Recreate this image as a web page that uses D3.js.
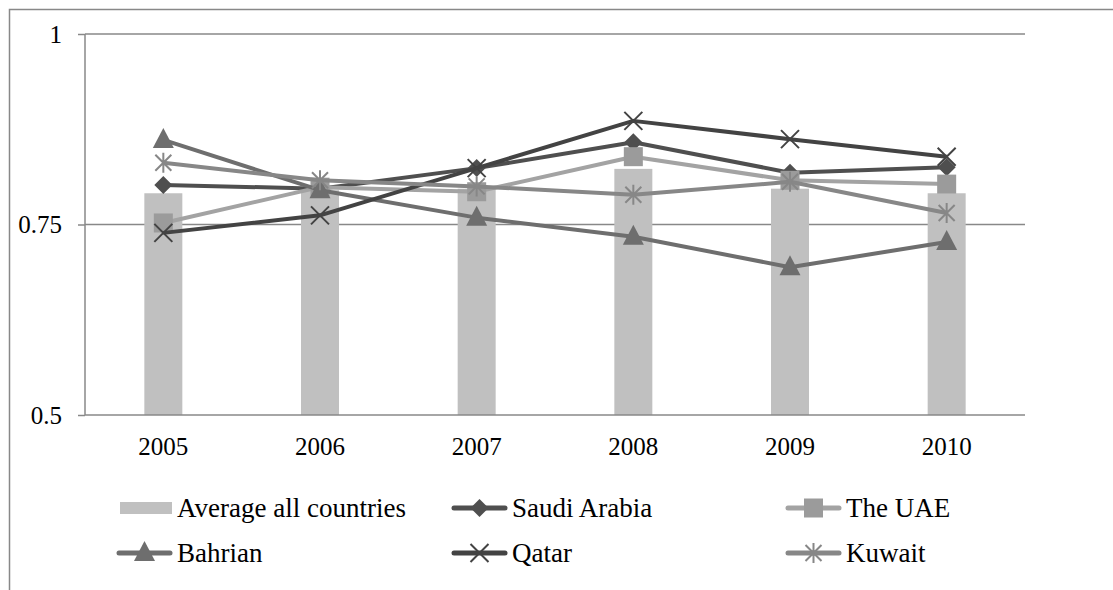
<!DOCTYPE html>
<html>
<head>
<meta charset="utf-8">
<script src="https://d3js.org/d3.v7.min.js"></script>
<style>
  body { margin: 0; background: #fff; }
  svg text { font-family: "Liberation Serif", "Times New Roman", serif; fill: #000; }
</style>
</head>
<body>
<div id="chart"></div>
<script>
// data
var years = ["2005", "2006", "2007", "2008", "2009", "2010"];
var average = [0.791, 0.795, 0.797, 0.823, 0.797, 0.791];
var saudi = [0.802, 0.797, 0.824, 0.858, 0.818, 0.825];
var uae = [0.752, 0.799, 0.793, 0.839, 0.808, 0.803];
var bahrain = [0.861, 0.795, 0.759, 0.734, 0.694, 0.727];
var qatar = [0.739, 0.762, 0.824, 0.886, 0.862, 0.839];
var kuwait = [0.831, 0.808, 0.800, 0.789, 0.806, 0.765];
var yTicks = [0.5, 0.75, 1];

var series = [
  { name: "Saudi Arabia", values: saudi, color: "#4f4f4f", mark: "diamond" },
  { name: "The UAE", values: uae, color: "#a3a3a3", mark: "square" },
  { name: "Bahrian", values: bahrain, color: "#6e6e6e", mark: "triangle" },
  { name: "Qatar", values: qatar, color: "#434343", mark: "cross" },
  { name: "Kuwait", values: kuwait, color: "#878787", mark: "asterisk" }
];

var width = 1113, height = 590;
var plotLeft = 85, plotRight = 1025, plotTop = 34, plotBottom = 415;

var svg = d3.select("#chart").append("svg")
  .attr("width", width)
  .attr("height", height);

// outer chart border (cut off at right and bottom)
svg.append("rect")
  .attr("x", 9.5).attr("y", 9.5)
  .attr("width", 1300).attr("height", 800)
  .attr("fill", "none")
  .attr("stroke", "#888")
  .attr("stroke-width", 1.5);

var x = d3.scaleBand().domain(years).range([plotLeft, plotRight]);
var y = d3.scaleLinear().domain([0.5, 1]).range([plotBottom, plotTop]);

// gridlines
svg.selectAll(".grid")
  .data(yTicks.slice(1))
  .enter().append("line")
  .attr("x1", plotLeft).attr("x2", plotRight)
  .attr("y1", function(d){ return y(d); })
  .attr("y2", function(d){ return y(d); })
  .attr("stroke", "#888")
  .attr("stroke-width", 1.5);

// bars
var barW = 38;
svg.selectAll(".bar")
  .data(average)
  .enter().append("rect")
  .attr("x", function(d, i){ return x(years[i]) + x.bandwidth() / 2 - barW / 2; })
  .attr("y", function(d){ return y(d); })
  .attr("width", barW)
  .attr("height", function(d){ return y(0.5) - y(d); })
  .attr("fill", "#c0c0c0");

// axes
var yAxis = svg.append("g")
  .attr("transform", "translate(" + plotLeft + ",0)")
  .call(d3.axisLeft(y).tickValues(yTicks).tickSize(7).tickPadding(16)
    .tickFormat(function(d){ return String(d); }));
yAxis.select(".domain").attr("stroke", "#888").attr("stroke-width", 1.5)
  .attr("d", "M0," + plotTop + "V" + plotBottom);
yAxis.selectAll(".tick line").attr("stroke", "#888").attr("stroke-width", 1.5);
yAxis.selectAll("text").style("font-size", "25px").style("font-family", "Liberation Serif").attr("fill", "#000");

var xAxis = svg.append("g")
  .attr("transform", "translate(0," + plotBottom + ")")
  .call(d3.axisBottom(x).tickSize(0).tickPadding(22));
xAxis.select(".domain").attr("stroke", "#888").attr("stroke-width", 1.5)
  .attr("d", "M" + plotLeft + ",0H" + plotRight);
xAxis.selectAll("text").style("font-size", "25px").style("font-family", "Liberation Serif").attr("fill", "#000");

// markers
function drawMark(g, kind, cx, cy, color) {
  if (kind === "diamond") {
    g.append("path")
      .attr("d", "M" + cx + "," + (cy - 9) + "L" + (cx + 9) + "," + cy + "L" + cx + "," + (cy + 9) + "L" + (cx - 9) + "," + cy + "Z")
      .attr("fill", color);
  } else if (kind === "square") {
    g.append("rect")
      .attr("x", cx - 9.5).attr("y", cy - 9.5)
      .attr("width", 19).attr("height", 19)
      .attr("fill", "#9b9b9b");
  } else if (kind === "triangle") {
    g.append("path")
      .attr("d", "M" + cx + "," + (cy - 12) + "L" + (cx + 10.5) + "," + (cy + 8) + "L" + (cx - 10.5) + "," + (cy + 8) + "Z")
      .attr("fill", color);
  } else if (kind === "cross") {
    g.append("path")
      .attr("d", "M" + (cx - 9) + "," + (cy - 9) + "L" + (cx + 9) + "," + (cy + 9) + "M" + (cx + 9) + "," + (cy - 9) + "L" + (cx - 9) + "," + (cy + 9))
      .attr("stroke", color).attr("stroke-width", 2).attr("fill", "none");
  } else if (kind === "asterisk") {
    g.append("path")
      .attr("d", "M" + (cx - 8) + "," + (cy - 8) + "L" + (cx + 8) + "," + (cy + 8) + "M" + (cx + 8) + "," + (cy - 8) + "L" + (cx - 8) + "," + (cy + 8) + "M" + cx + "," + (cy - 10) + "V" + (cy + 10))
      .attr("stroke", color).attr("stroke-width", 2).attr("fill", "none");
  }
}

var line = d3.line()
  .x(function(d, i){ return x(years[i]) + x.bandwidth() / 2; })
  .y(function(d){ return y(d); });

series.forEach(function(s) {
  var g = svg.append("g");
  g.append("path")
    .datum(s.values)
    .attr("d", line)
    .attr("fill", "none")
    .attr("stroke", s.color)
    .attr("stroke-width", 4)
    .attr("stroke-linejoin", "round");
  s.values.forEach(function(v, i) {
    drawMark(g, s.mark, x(years[i]) + x.bandwidth() / 2, y(v), s.color);
  });
});

// legend
var legendItems = [{ name: "Average all countries", bar: true }].concat(series);
var colX = [117, 452, 786];
var rowY = [508, 553];

legendItems.forEach(function(d, i) {
  var lx = colX[i % 3], ly = rowY[Math.floor(i / 3)];
  var g = svg.append("g");
  if (d.bar) {
    g.append("rect")
      .attr("x", lx + 3).attr("y", ly - 6)
      .attr("width", 52).attr("height", 12)
      .attr("fill", "#c0c0c0");
  } else {
    g.append("line")
      .attr("x1", lx + 2).attr("x2", lx + 53)
      .attr("y1", ly).attr("y2", ly)
      .attr("stroke", d.color).attr("stroke-width", 5)
      .attr("stroke-linecap", "round");
    drawMark(g, d.mark, lx + 27.5, ly, d.color);
  }
  g.append("text")
    .attr("x", lx + 60)
    .attr("y", ly)
    .attr("dy", "0.35em")
    .style("font-size", "27px")
    .text(d.name);
});
</script>
</body>
</html>
